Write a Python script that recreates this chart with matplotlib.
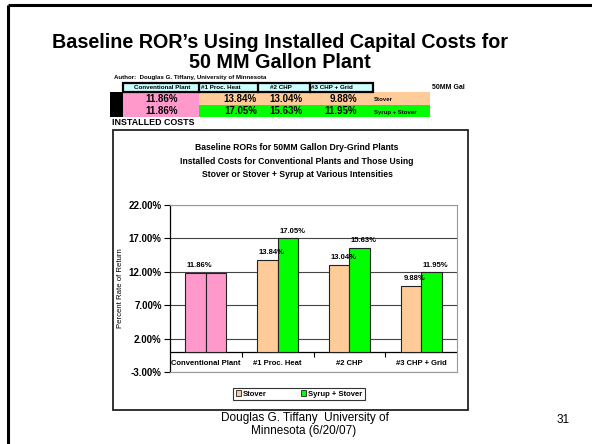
import numpy as np
import matplotlib.pyplot as plt
from matplotlib.patches import Rectangle, Patch

plt.rcParams['font.family'] = ['Liberation Sans', 'DejaVu Sans']

categories = ['Conventional Plant', '#1 Proc. Heat', '#2 CHP', '#3 CHP + Grid']
stover = [11.86, 13.84, 13.04, 9.88]
syrup_stover = [11.86, 17.05, 15.63, 11.95]
series_names = ['Stover', 'Syrup + Stover']
y_ticks = [-3, 2, 7, 12, 17, 22]

PINK = '#ff99cc'
PEACH = '#ffcc99'
GREEN = '#00ff00'
CYAN = '#ccffff'

fig = plt.figure(figsize=(5.92, 4.44), dpi=100)

# slide layer in pixel units (y grows downward)
bg = fig.add_axes([0, 0, 1, 1], zorder=0)
bg.set_xlim(0, 592)
bg.set_ylim(444, 0)
bg.axis('off')

bg.plot([8, 592], [5, 5], color='black', lw=2.2, solid_capstyle='butt')
bg.plot([8, 8], [5, 444], color='black', lw=2.2, solid_capstyle='butt')

bg.text(280, 42, "Baseline ROR\u2019s Using Installed Capital Costs for",
        ha='center', va='center', fontsize=14.2, fontweight='bold')
bg.text(280, 63, "50 MM Gallon Plant", ha='center', va='center',
        fontsize=14.2, fontweight='bold')
bg.text(114, 78, "Author:  Douglas G. Tiffany, University of Minnesota",
        ha='left', va='center', fontsize=4.4, fontweight='bold')

# summary table above the chart
col_edges = [123, 199, 258, 310, 373]
bg.add_patch(Rectangle((col_edges[0], 83), col_edges[-1] - col_edges[0], 9,
                       facecolor=CYAN, edgecolor='black', lw=1.6, zorder=2))
for xe in col_edges[1:-1]:
    bg.plot([xe, xe], [83, 92], color='black', lw=1.6, zorder=3)
bg.text(162, 87.5, categories[0], ha='center', va='center', fontsize=4.5, fontweight='bold')
bg.text(201, 87.5, categories[1], ha='left', va='center', fontsize=4.5, fontweight='bold')
bg.text(281, 87.5, categories[2], ha='center', va='center', fontsize=4.5, fontweight='bold')
bg.text(311, 87.5, categories[3], ha='left', va='center', fontsize=4.5, fontweight='bold')
bg.text(432, 87.5, "50MM Gal", ha='left', va='center', fontsize=5, fontweight='bold')

bg.add_patch(Rectangle((110, 92), 13, 25, facecolor='black', lw=0))
bg.add_patch(Rectangle((123, 92), 76, 25, facecolor=PINK, lw=0))
bg.add_patch(Rectangle((199, 92), 231, 13, facecolor=PEACH, lw=0))
bg.add_patch(Rectangle((199, 105), 231, 12, facecolor=GREEN, lw=0))

value_right = [257, 302, 357]
for row_y, vals, name in [(98.5, stover, series_names[0]), (111, syrup_stover, series_names[1])]:
    bg.text(162, row_y, f'{vals[0]:.2f}%', ha='center', va='center',
            fontsize=7, fontweight='bold')
    for xr, v in zip(value_right, vals[1:]):
        bg.text(xr, row_y, f'{v:.2f}%', ha='right', va='center',
                fontsize=7, fontweight='bold')
    bg.text(374, row_y + 1, name, ha='left', va='center', fontsize=4.3, fontweight='bold')

bg.text(112, 122, "INSTALLED COSTS", ha='left', va='center', fontsize=6.4, fontweight='bold')

# chart frame and titles
bg.add_patch(Rectangle((113, 130), 355, 280, fill=False, edgecolor='#222', lw=1.3))
chart_title = ["Baseline RORs for 50MM Gallon Dry-Grind Plants",
               "Installed Costs for Conventional Plants and Those Using",
               "Stover or Stover + Syrup at Various Intensities"]
for yy, line in zip([147, 161, 174], chart_title):
    bg.text(297, yy, line, ha='center', va='center', fontsize=6.2, fontweight='bold')
bg.text(120, 288, "Percent Rate of Return", ha='center', va='center',
        rotation=90, fontsize=5.6)

# footer
bg.text(305, 418, "Douglas G. Tiffany  University of", ha='center', va='center', fontsize=8.5)
bg.text(304, 431, "Minnesota (6/20/07)", ha='center', va='center', fontsize=8.5)
bg.text(563, 420, "31", ha='center', va='center', fontsize=8.5)

# bar chart
ax = fig.add_axes([170 / 592, 1 - 372 / 444, 287 / 592, 167 / 444], zorder=1)
x = np.arange(len(categories))
w = 0.286
colors1 = [PINK] + [PEACH] * (len(categories) - 1)
colors2 = [PINK] + [GREEN] * (len(categories) - 1)
bars1 = ax.bar(x - w / 2, stover, w, color=colors1, edgecolor='#222', lw=0.8, zorder=3)
bars2 = ax.bar(x + w / 2, syrup_stover, w, color=colors2, edgecolor='#222', lw=0.8, zorder=3)

for i, (b, v) in enumerate(zip(bars1, stover)):
    ax.annotate(f'{v:.2f}%', (b.get_x() + b.get_width() / 2, v), xytext=(3, 2.5),
                textcoords='offset points', ha='center', va='bottom',
                fontsize=5.5, fontweight='bold')
for i, (b, v) in enumerate(zip(bars2, syrup_stover)):
    if i == 0:
        continue
    ax.annotate(f'{v:.2f}%', (b.get_x() + b.get_width() / 2, v), xytext=(3, 2.5),
                textcoords='offset points', ha='center', va='bottom',
                fontsize=5.5, fontweight='bold')

ax.set_xlim(-0.5, len(categories) - 0.5)
ax.set_ylim(y_ticks[0], y_ticks[-1])
ax.set_yticks(y_ticks)
ax.set_yticklabels([f'{t:.2f}%' for t in y_ticks], fontsize=7, fontweight='bold')
ax.set_xticks([])
ax.tick_params(axis='y', length=4, width=0.8, color='black', pad=2)
ax.yaxis.grid(True, color='#444', lw=0.8)
ax.set_axisbelow(True)
for side in ['top', 'right', 'bottom']:
    ax.spines[side].set_color('#999')
    ax.spines[side].set_linewidth(0.8)
ax.spines['left'].set_color('black')
ax.spines['left'].set_linewidth(0.9)

ax.axhline(0, color='black', lw=0.9, zorder=2)
ax.vlines(x[:-1] + 0.5, -0.75, 0, color='black', lw=0.8, zorder=2)
for i, cat in enumerate(categories):
    ax.text(i, -1.7, cat, ha='center', va='center', fontsize=5.5, fontweight='bold')

handles = [Patch(facecolor=PEACH, edgecolor='#222', lw=0.6),
           Patch(facecolor=GREEN, edgecolor='#222', lw=0.6)]
leg = ax.legend(handles, series_names, loc='center', ncol=2,
                bbox_to_anchor=(299 / 592, 1 - 394 / 444), bbox_transform=fig.transFigure,
                prop={'size': 5.5, 'weight': 'bold'}, frameon=True, fancybox=False,
                handlelength=0.7, handleheight=0.7, handletextpad=0.2,
                columnspacing=4.5, borderpad=0.35, borderaxespad=0)
leg.get_frame().set_edgecolor('black')
leg.get_frame().set_linewidth(0.8)

fig.savefig('out.png', dpi=100)
